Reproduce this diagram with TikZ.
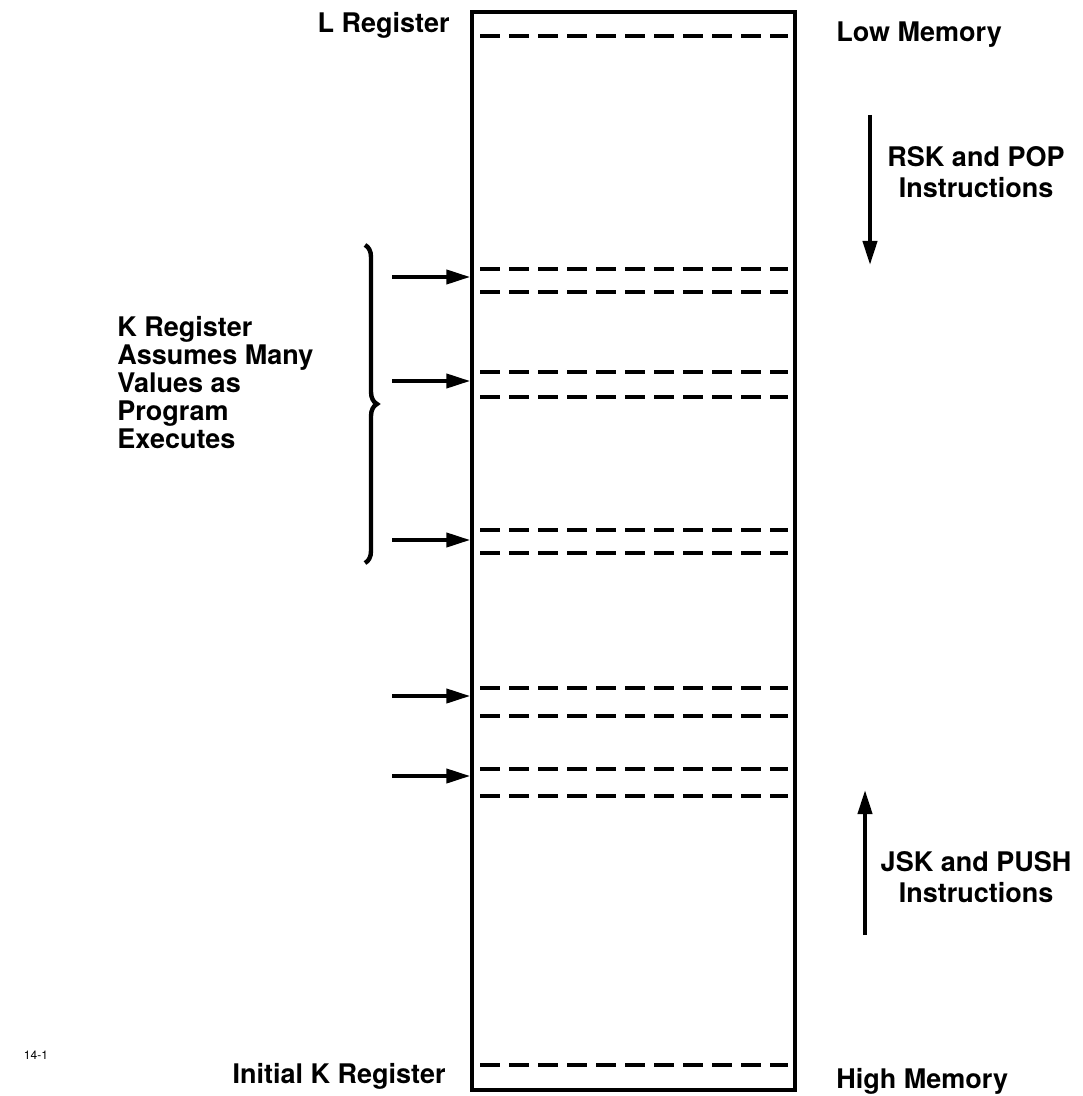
\documentclass[tikz,border=0pt]{standalone}
\usepackage{fontspec}
\setmainfont{TeX Gyre Heros}
\usetikzlibrary{arrows.meta,decorations.pathreplacing}
\tikzset{
  memline/.style={dash pattern=on 10pt off 4.5pt, line width=2pt},
  kptr/.style={line width=2pt, -{Triangle[length=12pt,width=7pt]}},
  lbl/.style={font=\fontsize{13.5}{14}\selectfont\bfseries, inner sep=0pt}
}

\begin{document}
\begin{tikzpicture}[x=0.5pt, y=-0.5pt]
    \useasboundingbox (0,0) rectangle (1082,1096);
    % the memory block
    \node[draw, line width=1.7pt, minimum width=161.5pt, minimum height=539pt, inner sep=0pt]
      (mem) at (633.5,551) {};
    \foreach \yy in {36,269,292,372,397,530,553,688,716,769,796,1065}
      \draw[memline] (480,\yy) -- (788,\yy);
    % pointers into the stack
    \foreach \yy [count=\i] in {277,381,540,696,776} {
      \coordinate (ks\i) at (392,\yy);
      \coordinate (ke\i) at (mem.west |- 0,\yy);
      \draw[kptr] (ks\i) -- (ke\i);
    }
    \coordinate (bt) at (365,245);
    \coordinate (bb) at (365,563);
    \draw[line width=2.2pt, decorate, decoration={brace, amplitude=6pt}] (bt) -- (bb);
    % direction arrows
    \coordinate (popa) at (870,115);
    \coordinate (popb) at (870,265);
    \coordinate (pusha) at (865,935);
    \coordinate (pushb) at (865,790);
    \draw[kptr] (popa) -- (popb);
    \draw[kptr] (pusha) -- (pushb);
    % labels
    \node[lbl, anchor=east] (lreg) at (450,25) {L Register};
    \node[lbl, anchor=west] (lowmem) at (836,35) {Low Memory};
    \node[lbl, anchor=east] (ikreg) at (446,1076) {Initial K Register};
    \node[lbl, anchor=west] (highmem) at (836,1081) {High Memory};
    \node[lbl, align=center] (poptxt) at (976,172)
      {RSK and POP\\[1.5pt]Instructions};
    \node[lbl, align=center] (pushtxt) at (976,877)
      {JSK and PUSH\\[1.5pt]Instructions};
    \node[lbl, align=left, anchor=north west, font=\fontsize{13.5}{14}\selectfont\bfseries]
      (ktxt) at (117,316)
      {K Register\\Assumes Many\\Values as\\Program\\Executes};
    \node[font=\fontsize{6}{7}\selectfont, inner sep=0pt] (fig) at (36,1055) {14-1};
  \end{tikzpicture}
\end{document}
